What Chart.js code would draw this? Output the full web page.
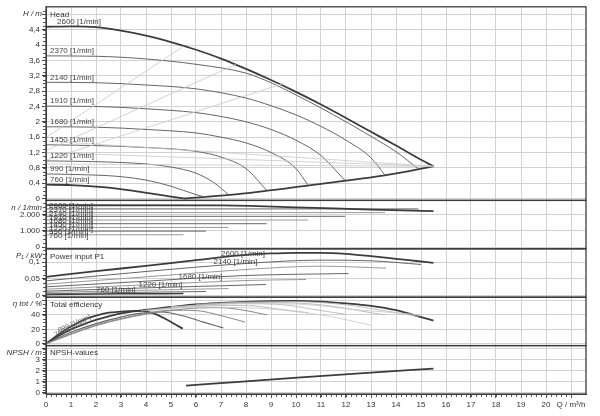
<!DOCTYPE html>
<html><head><meta charset="utf-8">
<script src="https://cdn.jsdelivr.net/npm/chart.js@4.4.1/dist/chart.umd.min.js"></script>
<style>html,body{margin:0;padding:0;background:#fff}#wrap{width:600px;height:416px}</style>
</head><body><div id="wrap"><canvas id="c" width="600" height="416"></canvas></div>
<script>
const speeds = [2600, 2370, 2140, 1910, 1680, 1450, 1220, 990, 760];

// tick values per panel
const qTicks = [0,1,2,3,4,5,6,7,8,9,10,11,12,13,14,15,16,17,18,19,20,21];
const headTicks = [0,0.4,0.8,1.2,1.6,2,2.4,2.8,3.2,3.6,4,4.4,4.8];
const speedTicks = [0,1000,2000];
const powerTicks = [0,0.05,0.1];
const effTicks = [0,20,40,60];
const npshTicks = [0,1,2,3,4];

// head H [m] over Q [m³/h]
const head2600 = [[0,4.48],[1,4.49],[2,4.47],[3,4.38],[4,4.25],[5,4.08],[6,3.88],[7,3.65],[8,3.38],[9,3.09],[10,2.78],[11,2.45],[12,2.10],[13,1.74],[14,1.38],[15,1.01],[15.5,0.84]];
const head2370 = [[0,3.72],[2,3.71],[4,3.64],[6,3.50],[8,3.27],[9,3.02],[10,2.70],[11,2.36],[12,2.00],[13,1.62],[14,1.22],[14.9,0.77]];
const head2140 = [[0,3.03],[2,3.02],[4,2.96],[6,2.86],[8,2.62],[9,2.42],[10,2.18],[11,1.88],[12,1.52],[13,1.06],[13.56,0.61]];
const head1910 = [[0,2.41],[2,2.40],[4,2.34],[6,2.24],[7,2.14],[8,2.00],[9,1.80],[10,1.52],[11,1.12],[11.96,0.47]];
const head1680 = [[0,1.87],[2,1.86],[4,1.80],[6,1.71],[7,1.60],[8,1.45],[9,1.20],[10,0.78],[10.49,0.34]];
const head1450 = [[0,1.40],[2,1.38],[4,1.33],[6,1.23],[7,1.08],[8,0.78],[8.83,0.21]];
const head1220 = [[0,0.98],[2,0.96],[4,0.90],[5,0.82],[6,0.66],[6.7,0.42],[7.3,0.10]];
const head990 = [[0,0.64],[2,0.61],[3,0.57],[4,0.48],[5,0.32],[6,0.10],[6.4,0.03]];
const head760 = [[0,0.36],[1,0.35],[2.4,0.29],[3.5,0.20],[4.5,0.10],[5.5,0.0]];
const headMin = [[5.5,0.0],[7.76,0.12],[10.6,0.35],[13.6,0.61],[15.5,0.84]];
const headGrey = [
  [[0,1.59],[5.5,3.97]],
  [[0,1.25],[7.6,3.5]],
  [[0,1.0],[9.5,3.0]],
  [[0,1.5],[15.5,0.84]],
  [[0,1.2],[15.5,0.84]],
  [[0,0.9],[15.5,0.84]]
];

// speed n [1/min]
const speedEnd = [15.5, 14.9, 13.56, 11.96, 10.49, 8.83, 7.3, 6.4, 5.5];
const n2600 = [[0,2600],[7,2590],[10,2470],[13,2330],[15.5,2230]];

// power input P1 [kW]
const power2600 = [[0,0.056],[2,0.073],[4,0.089],[6,0.106],[7.76,0.120],[9,0.126],[10,0.128],[11,0.128],[12,0.125],[13,0.118],[14,0.110],[15,0.102],[15.5,0.098]];
const power2370 = [[0,0.044],[4,0.072],[8,0.096],[11,0.106],[13,0.104],[15,0.093]];
const power2140 = [[0,0.034],[4,0.056],[8,0.078],[11,0.088],[13.6,0.082]];
const power1910 = [[0,0.026],[4,0.043],[8,0.060],[12.1,0.066]];
const power1680 = [[0,0.019],[4,0.032],[8,0.045],[10.4,0.048]];
const power1450 = [[0,0.013],[4,0.023],[8.8,0.033]];
const power1220 = [[0,0.009],[4,0.016],[7.3,0.021]];
const power990 = [[0,0.005],[3,0.009],[6.4,0.012]];
const power760 = [[0,0.003],[3,0.005],[5.5,0.006]];

// total efficiency [%]
const eff2600 = [[0,0],[0.5,13],[1,24],[1.5,33],[2,39],[2.5,43],[3,44.5],[3.76,46],[5,51],[6,54.5],[7,56.5],[8,58],[9,59],[10,59.3],[11,58.5],[12,56],[13,52.5],[14,46.5],[15,37],[15.5,32]];
const eff2370 = [[6,54.5],[8,57.5],[10,58.2],[12,54],[13.5,46],[14.9,38]];
const eff2140 = [[5,51],[7,55.5],[9,57],[11,54],[12.5,46],[13.56,40]];
const eff1910 = [[4,46.5],[6,53],[8,55.5],[9.5,54],[11,46],[11.96,41]];
const eff1680 = [[3.8,45.5],[5,49],[6.5,52.5],[8,53],[9.3,48],[10.49,43]];
const eff1450 = [[0,0],[1,13],[2,25],[3,34],[4,41],[5,46],[6,49.5],[7,50],[8,46],[8.83,40]];
const eff1220 = [[0,0],[1,14],[2,26],[3,35],[4,42],[5,46.5],[6,46],[7,39],[7.96,30]];
const eff990 = [[0,0],[1,16],[2,28],[3,37],[3.76,42],[4.6,44],[5.5,38.5],[6.3,30],[7.09,22]];
const eff760 = [[0,0],[0.5,11],[1,20],[1.5,27],[2,33],[2.5,38],[3,42],[3.76,45.6],[4.3,42],[4.8,34],[5.47,21]];
const effGrey = [
  [[5,51],[8,50],[11,40],[13,25.8]],
  [[7,56],[10,55],[12.5,47],[15,40]]
];

// NPSH [m]
const npsh = [[5.6,0.66],[8,1.05],[10.2,1.42],[13,1.85],[15.5,2.2]];

const xy = pts => pts.map(p => ({x: p[0], y: p[1]}));
const dark = '#3c3c3c', mid = '#666', grey = '#c8c8c8';
const datasets = [];
function add(pts, axis, color, width) {
  datasets.push({data: xy(pts), yAxisID: axis, borderColor: color, borderWidth: width,
    pointRadius: 0, fill: false, tension: 0.35, cubicInterpolationMode: 'monotone'});
}
headGrey.forEach(g => add(g, 'yH', grey, 0.8));
effGrey.forEach(g => add(g, 'yE', grey, 0.8));
[head2370, head2140, head1910, head1680, head1450, head1220, head990].forEach(c => add(c, 'yH', mid, 1));
add(head760, 'yH', dark, 1.8);
add(head2600, 'yH', dark, 1.8);
add(headMin, 'yH', dark, 1.8);
speeds.forEach((s, i) => {
  if (s === 2600) add(n2600, 'yN', dark, 1.8);
  else add([[0, s], [speedEnd[i], s]], 'yN', i % 2 ? mid : '#999', 1);
});
[power2370, power2140, power1910, power1680, power1450, power1220, power990].forEach((c, i) => add(c, 'yP', i % 2 ? '#999' : mid, 1));
add(power760, 'yP', dark, 1.5);
add(power2600, 'yP', dark, 1.8);
[eff2370, eff2140, eff1910, eff1680].forEach(c => add(c, 'yE', '#b8b8b8', 0.9));
[eff1450, eff1220].forEach(c => add(c, 'yE', '#888', 1));
add(eff990, 'yE', mid, 1.2);
add(eff760, 'yE', dark, 1.8);
add(eff2600, 'yE', dark, 1.8);
add(npsh, 'yS', dark, 1.8);

const deComma = v => String(Math.round(v * 1000) / 1000).replace('.', ',');
const fontSpec = {family: "'Liberation Sans', Arial, sans-serif", size: 8};
const gridCol = '#d2d2d2';
function yAxis(weight, sw, min, max, tickVals, fmt, hideAbove) {
  return {
    type: 'linear', position: 'left', stack: 'panels', stackWeight: sw, weight: weight,
    min: min, max: max,
    afterFit: s => { s.width = 46; },
    afterBuildTicks: s => { s.ticks = tickVals.map(v => ({value: v})); },
    border: {display: true, color: dark, width: 1},
    grid: {color: gridCol, tickColor: dark, tickLength: 4},
    ticks: {autoSkip: false, color: '#333', font: fontSpec, padding: 2,
      callback: v => v > hideAbove ? '' : fmt(v)}
  };
}

const unitLabels = [['yH', 'H / m'], ['yN', 'n / 1/min'], ['yP', 'P\u2081 / kW'], ['yE', '\u03b7 tot / %'], ['yS', 'NPSH / m']];
const panelTitles = [['yH', 'Head'], ['yP', 'Power input P1'], ['yE', 'Total efficiency'], ['yS', 'NPSH-values']];

const decor = {
  id: 'decor',
  afterDraw(chart) {
    const ctx = chart.ctx, a = chart.chartArea, sc = chart.scales, x = sc.x;
    ctx.save();
    // minor ticks
    ctx.strokeStyle = '#555'; ctx.lineWidth = 1;
    ctx.beginPath();
    for (let q = 0; q <= 21.01; q += 0.2) {
      const px = Math.round(x.getPixelForValue(q)) + 0.5;
      ctx.moveTo(px, a.bottom); ctx.lineTo(px, a.bottom + 3);
    }
    const minors = {yH: 0.1, yN: 250, yP: 0.0125, yE: 5, yS: 0.25};
    Object.keys(minors).forEach(id => {
      const s = sc[id];
      for (let v = 0; v <= s.max; v += minors[id]) {
        const py = Math.round(s.getPixelForValue(v)) + 0.5;
        if (py < s.top + 1) continue;
        ctx.moveTo(a.left - 3, py); ctx.lineTo(a.left, py);
      }
    });
    ctx.stroke();
    // panel frames
    ctx.strokeStyle = dark; ctx.lineWidth = 1.3;
    ['yH', 'yN', 'yP', 'yE', 'yS'].forEach(id => {
      const s = sc[id];
      ctx.strokeRect(a.left, s.top, a.right - a.left, s.bottom - s.top);
    });
    // unit labels on the axes
    ctx.fillStyle = '#333';
    ctx.font = "italic 8px 'Liberation Sans', Arial, sans-serif";
    ctx.textAlign = 'right'; ctx.textBaseline = 'middle';
    unitLabels.forEach(([id, t]) => ctx.fillText(t, a.left - 4, sc[id].top + 7));
    // panel titles
    ctx.font = "8px 'Liberation Sans', Arial, sans-serif";
    ctx.textAlign = 'left';
    panelTitles.forEach(([id, t]) => ctx.fillText(t, a.left + 4, sc[id].top + 7.5));
    // speed labels in the head panel
    const heads = [head2600, head2370, head2140, head1910, head1680, head1450, head1220, head990, head760];
    ctx.fillStyle = '#444';
    speeds.forEach((s, i) => {
      const py = sc.yH.getPixelForValue(heads[i][0][1]) - 5;
      ctx.fillText(s + ' [1/min]', a.left + (i === 0 ? 11 : 4), py);
    });
    // overlapping speed labels in the n panel
    speeds.forEach((s, i) => {
      const py = sc.yN.getPixelForValue(s) + 1;
      ctx.fillText(s + ' [1/min]', a.left + 3, py);
    });
    // a few labels in the power panel
    [[2600, 7.0, 0.126], [2140, 6.7, 0.102], [1680, 5.3, 0.057], [1220, 3.7, 0.033], [760, 2.0, 0.017]].forEach(([s, q, p]) => {
      ctx.fillText(s + ' [1/min]', x.getPixelForValue(q), sc.yP.getPixelForValue(p));
    });
    // slanted labels along the rising efficiency curves
    ctx.font = "7px 'Liberation Sans', Arial, sans-serif";
    ctx.fillStyle = '#666';
    [[0.35, 12], [0.5, 18]].forEach(([q, e], k) => {
      ctx.save();
      ctx.translate(x.getPixelForValue(q), sc.yE.getPixelForValue(e));
      ctx.rotate(-0.42);
      ctx.fillText((k ? 990 : 760) + ' [1/min]', 0, 0);
      ctx.restore();
    });
    ctx.restore();
  }
};

new Chart(document.getElementById('c'), {
  type: 'line',
  data: {datasets: datasets},
  options: {
    responsive: false, animation: false,
    layout: {padding: {top: 6, right: 14, bottom: 0, left: 0}},
    plugins: {legend: {display: false}, tooltip: {enabled: false}},
    scales: {
      x: {
        type: 'linear', position: 'bottom', min: 0, max: 21.6,
        afterFit: s => { s.height = 22; },
        afterBuildTicks: s => { s.ticks = qTicks.map(v => ({value: v})); },
        border: {display: true, color: dark, width: 1},
        grid: {color: gridCol, tickColor: '#555', tickLength: 4},
        ticks: {color: '#333', font: fontSpec, padding: 2, maxRotation: 0, autoSkip: false,
          callback: v => v === 21 ? 'Q / m\u00b3/h' : String(v)}
      },
      yH: yAxis(5, 4, -0.05, 5.0, headTicks, deComma, 4.5),
      yN: yAxis(4, 1, -110, 2900, speedTicks, v => v === 0 ? '0' : (v / 1000).toFixed(3), 2500),
      yP: yAxis(3, 1, -0.005, 0.14, powerTicks, deComma, 0.12),
      yE: yAxis(2, 1, -2.5, 64.5, effTicks, v => String(v), 50),
      yS: yAxis(1, 1, -0.1, 4.3, npshTicks, v => String(v), 3.5)
    }
  },
  plugins: [decor]
});
</script>
</body></html>
